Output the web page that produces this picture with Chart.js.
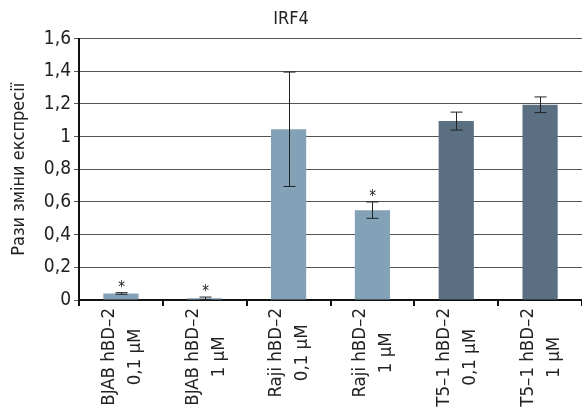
<!DOCTYPE html>
<html>
<head>
<meta charset="utf-8">
<script src="https://cdn.jsdelivr.net/npm/chart.js@4"></script>
<style>
  html, body { margin: 0; padding: 0; background: #fff; }
  #wrap { width: 582px; height: 414px; }
</style>
</head>
<body>
<div id="wrap"><canvas id="chart" width="582" height="414"></canvas></div>
<script>
var labels = [
    ['BJAB hBD–2', '0,1 μM'],
    ['BJAB hBD–2', '1 μM'],
    ['Raji hBD–2', '0,1 μM'],
    ['Raji hBD–2', '1 μM'],
    ['T5–1 hBD–2', '0,1 μM'],
    ['T5–1 hBD–2', '1 μM']
];
var values = [0.04, 0.01, 1.045, 0.55, 1.095, 1.195];
var errors = [0.005, 0.008, 0.35, 0.05, 0.055, 0.048];
var marked = [true, true, false, true, false, false];
var yTicks = [0, 0.2, 0.4, 0.6, 0.8, 1, 1.2, 1.4, 1.6];

var light = '#83a1b7';
var dark = '#5a7082';
var fontFam = "'Liberation Sans Narrow', 'DejaVu Sans Condensed', sans-serif";

// планки похибок і зірочки
var extras = {
    id: 'extras',
    afterDatasetsDraw: function(chart) {
        var ctx = chart.ctx;
        var y = chart.scales.y;
        var meta = chart.getDatasetMeta(0);
        ctx.save();
        ctx.strokeStyle = '#222';
        ctx.lineWidth = 1;
        for (let i = 0; i < values.length; i++) {
            let x = Math.round(meta.data[i].x) + 0.5;
            let yt = y.getPixelForValue(values[i] + errors[i]);
            let yb = y.getPixelForValue(values[i] - errors[i]);
            ctx.beginPath();
            ctx.moveTo(x, yt); ctx.lineTo(x, yb);
            ctx.moveTo(x - 6, yt); ctx.lineTo(x + 6, yt);
            ctx.moveTo(x - 6, yb); ctx.lineTo(x + 6, yb);
            ctx.stroke();
            if (marked[i]) {
                ctx.fillStyle = '#222';
                ctx.font = '15px ' + fontFam;
                ctx.textAlign = 'center';
                ctx.textBaseline = 'alphabetic';
                ctx.fillText('*', x, yt - 1);
            }
        }
        ctx.restore();
    },
    afterDraw: function(chart) {
        // підписи категорій у два рядки, повернуті
        var ctx = chart.ctx;
        var meta = chart.getDatasetMeta(0);
        var top = chart.chartArea.bottom + 8;
        ctx.save();
        ctx.fillStyle = '#222';
        ctx.font = '18.5px ' + fontFam;
        ctx.textAlign = 'center';
        ctx.textBaseline = 'middle';
        for (let i = 0; i < labels.length; i++) {
            let maxW = 0;
            labels[i].forEach(function(t) { maxW = Math.max(maxW, ctx.measureText(t).width); });
            let cx = meta.data[i].x + 1;
            let cy = top + maxW / 2;
            let n = labels[i].length;
            for (let j = 0; j < n; j++) {
                let lx = cx + (j - (n - 1) / 2) * 26;
                ctx.save();
                ctx.translate(lx, cy);
                ctx.rotate(-Math.PI / 2);
                ctx.fillText(labels[i][j], 0, 0);
                ctx.restore();
            }
        }
        ctx.restore();
    }
};

new Chart(document.getElementById('chart'), {
    type: 'bar',
    data: {
        labels: labels,
        datasets: [{
            data: values,
            backgroundColor: [light, light, light, light, dark, dark],
            borderWidth: 0,
            barPercentage: 0.42,
            categoryPercentage: 1
        }]
    },
    options: {
        responsive: false,
        animation: false,
        layout: { padding: 0 },
        plugins: {
            legend: { display: false },
            tooltip: { enabled: false },
            title: {
                display: true,
                text: 'IRF4',
                color: '#222',
                font: { family: fontFam, size: 18, weight: 'normal' },
                padding: { top: 9, bottom: 8 }
            }
        },
        scales: {
            x: {
                offset: true,
                grid: { display: true, drawOnChartArea: false, drawTicks: true, tickLength: 6, color: '#111', lineWidth: 2 },
                border: { display: true, color: '#111', width: 2 },
                ticks: { display: false },
                afterFit: function(s) { s.height = 114; }
            },
            y: {
                min: 0,
                max: 1.6,
                afterBuildTicks: function(s) { s.ticks = yTicks.map(function(v) { return { value: v }; }); },
                grid: { color: '#555', lineWidth: 1, drawTicks: true, tickLength: 5 },
                border: { display: true, color: '#111', width: 2 },
                ticks: {
                    color: '#222',
                    padding: 3,
                    font: { family: fontFam, size: 19 },
                    callback: function(v) { return String(+v.toFixed(1)).replace('.', ','); }
                },
                title: {
                    display: true,
                    text: 'Рази зміни експресії',
                    color: '#222',
                    font: { family: fontFam, size: 18 },
                    padding: { top: 9, bottom: 0 }
                },
                afterFit: function(s) { s.width = 79; }
            }
        }
    },
    plugins: [extras]
});
</script>
</body>
</html>
